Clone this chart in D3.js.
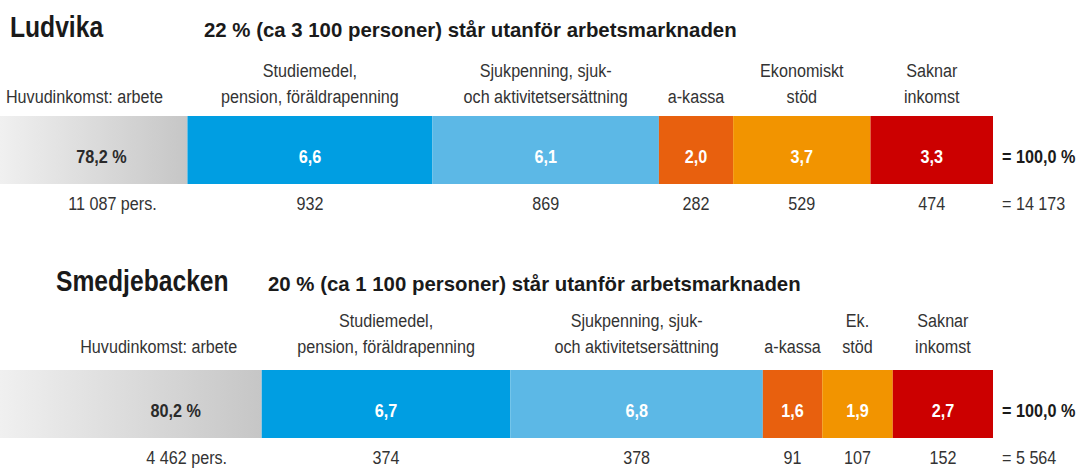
<!DOCTYPE html>
<html>
<head>
<meta charset="utf-8">
<script src="https://cdn.jsdelivr.net/npm/d3@7"></script>
<style>
  body { margin: 0; background: #fff; }
  text { font-family: "Liberation Sans", Arial, sans-serif; fill: #333; }
</style>
</head>
<body>
<div id="chart"></div>
<script>
// data
var regions = ["Ludvika", "Smedjebacken"];
var subtitles = [
    "22 % (ca 3 100 personer) står utanför arbetsmarknaden",
    "20 % (ca 1 100 personer) står utanför arbetsmarknaden"
];
var categories = ["Huvudinkomst: arbete", "Studiemedel, pension, föräldrapenning",
    "Sjukpenning, sjuk- och aktivitetsersättning", "a-kassa", "Ekonomiskt stöd", "Saknar inkomst"];
var headersLudvika = [["Huvudinkomst: arbete"], ["Studiemedel,", "pension, föräldrapenning"],
    ["Sjukpenning, sjuk-", "och aktivitetsersättning"], ["a-kassa"], ["Ekonomiskt", "stöd"], ["Saknar", "inkomst"]];
var headersSmedjebacken = [["Huvudinkomst: arbete"], ["Studiemedel,", "pension, föräldrapenning"],
    ["Sjukpenning, sjuk-", "och aktivitetsersättning"], ["a-kassa"], ["Ek.", "stöd"], ["Saknar", "inkomst"]];
var sharesLudvika = [78.2, 6.6, 6.1, 2.0, 3.7, 3.3];
var sharesSmedjebacken = [80.2, 6.7, 6.8, 1.6, 1.9, 2.7];
var personsLudvika = [11087, 932, 869, 282, 529, 474];
var personsSmedjebacken = [4462, 374, 378, 91, 107, 152];
var totalShares = [100.0, 100.0];

var colors = ["#d0d0d0", "#009ee2", "#5cb8e6", "#e8600e", "#f29400", "#cc0000"];

var width = 1083, height = 468;

var sv = d3.formatLocale({ decimal: ",", thousands: "\u00a0", grouping: [3], currency: ["", " kr"] });
var fmtShare = sv.format(".1f");
var fmtPers = sv.format(",d");

// same scale for both bars; first (work) segment is cut off at the left edge
var x = d3.scaleLinear().domain([100 - 26.75, 100]).range([0, 993]);

var svg = d3.select("#chart")
    .append("svg")
    .attr("width", width)
    .attr("height", height);

var defs = svg.append("defs");

// condensed look: squeeze text horizontally
function put(sel, fx, fy, sx) {
    sel.attr("transform", function(d) {
        return "translate(" + fx(d) + "," + fy(d) + ") scale(" + sx + ",1)";
    });
    return sel;
}

var panels = [
    { top: 116, titleX: 10, subX: 204, hdrY: 13, headers: headersLudvika, shares: sharesLudvika, persons: personsLudvika },
    { top: 370, titleX: 56, subX: 268, hdrY: 17, headers: headersSmedjebacken, shares: sharesSmedjebacken, persons: personsSmedjebacken }
];

panels.forEach(function(p, pi) {
    var barH = 68;
    var g = svg.append("g");

    // stack the small parts from the right end
    var rest = d3.sum(p.shares.slice(1));
    var segs = [];
    var acc = 100 - rest;
    segs.push({ i: 0, x0: x.domain()[0], x1: acc, v: p.shares[0], n: p.persons[0] });
    for (var i = 1; i < p.shares.length; i++) {
        segs.push({ i: i, x0: acc, x1: acc + p.shares[i], v: p.shares[i], n: p.persons[i] });
        acc += p.shares[i];
    }
    var grayEnd = x(segs[0].x1);

    var grad = defs.append("linearGradient")
        .attr("id", "gray" + pi)
        .attr("gradientUnits", "userSpaceOnUse")
        .attr("x1", 0).attr("x2", grayEnd).attr("y1", 0).attr("y2", 0);
    grad.append("stop").attr("offset", "0%").attr("stop-color", "#f0f0f0");
    grad.append("stop").attr("offset", "100%").attr("stop-color", "#c6c6c6");

    // titles
    put(g.append("text"), () => p.titleX, () => p.top - 79, 0.85)
        .style("font-size", "29px")
        .style("font-weight", "bold")
        .style("fill", "#1a1a1a")
        .text(regions[pi]);
    g.append("text")
        .attr("x", p.subX)
        .attr("y", p.top - 79)
        .style("font-size", "20.4px")
        .style("font-weight", "bold")
        .style("fill", "#1a1a1a")
        .text(subtitles[pi]);

    // bars
    g.selectAll("rect.seg")
        .data(segs)
        .enter()
        .append("rect")
        .attr("class", "seg")
        .attr("x", d => d.i === 0 ? 0 : x(d.x0))
        .attr("y", p.top)
        .attr("width", d => d.i === 0 ? grayEnd : x(d.x1) - x(d.x0))
        .attr("height", barH)
        .style("fill", d => d.i === 0 ? "url(#gray" + pi + ")" : colors[d.i]);

    var cx = function(d, off) {
        return d.i === 0 ? grayEnd - off : (x(d.x0) + x(d.x1)) / 2;
    };

    // header labels above the bar
    var hdr = put(g.selectAll("text.hdr")
        .data(segs)
        .enter()
        .append("text")
        .attr("class", "hdr")
        .attr("text-anchor", "middle")
        .style("font-size", "19px"), d => cx(d, 103), () => p.top - p.hdrY, 0.85);
    hdr.each(function(d) {
        var lines = p.headers[d.i];
        var t = d3.select(this);
        lines.forEach(function(l, li) {
            t.append("tspan")
                .attr("x", 0)
                .attr("y", -(lines.length - 1 - li) * 26)
                .text(l);
        });
    });

    // values in the bar
    put(g.selectAll("text.val")
        .data(segs)
        .enter()
        .append("text")
        .attr("class", "val")
        .attr("text-anchor", "middle"), d => cx(d, 86), () => p.top + 47, 0.9)
        .style("font-size", "18px")
        .style("font-weight", "bold")
        .style("fill", d => d.i === 0 ? "#2a2a2a" : "#fff")
        .text(d => d.i === 0 ? fmtShare(d.v) + " %" : fmtShare(d.v));

    // persons below the bar
    put(g.selectAll("text.pers")
        .data(segs)
        .enter()
        .append("text")
        .attr("class", "pers")
        .attr("text-anchor", "middle"), d => cx(d, 75), () => p.top + 94, 0.85)
        .style("font-size", "19px")
        .text(d => d.i === 0 ? fmtPers(d.n) + " pers." : fmtPers(d.n));

    // totals
    put(g.append("text"), () => x(100) + 9, () => p.top + 47, 0.9)
        .style("font-size", "18px")
        .style("font-weight", "bold")
        .style("fill", "#1a1a1a")
        .text("= " + fmtShare(totalShares[pi]) + " %");
    put(g.append("text"), () => x(100) + 9, () => p.top + 94, 0.85)
        .style("font-size", "19px")
        .text("= " + fmtPers(d3.sum(p.persons)));
});
</script>
</body>
</html>
